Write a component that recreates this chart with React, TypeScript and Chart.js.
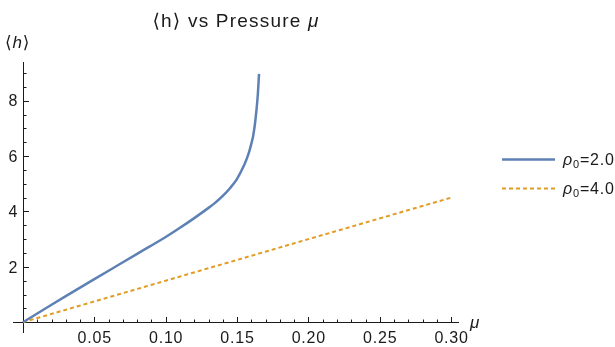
import { useEffect, useRef } from "react";
import { Chart, registerables } from "chart.js";

Chart.register(...registerables);

const WIDTH = 615;
const HEIGHT = 347;

// Mean height ⟨h⟩ against pressure μ for two densities ρ0
const muRho2 = [0, 0.02, 0.04, 0.06, 0.08, 0.1, 0.11, 0.12, 0.13, 0.135, 0.14, 0.145, 0.15, 0.155, 0.158, 0.16, 0.1612, 0.1625, 0.1636, 0.1645, 0.1654];
const hRho2 = [0, 0.63, 1.25, 1.86, 2.47, 3.08, 3.41, 3.76, 4.13, 4.33, 4.56, 4.84, 5.18, 5.68, 6.08, 6.45, 6.71, 7.15, 7.67, 8.2, 8.97];
const muRho4 = [0, 0.1, 0.2, 0.3];
const hRho4 = [0, 1.5, 3.0, 4.5];

const rhoLabels = ["2.0", "4.0"];
const seriesColors = ["rgb(94,129,181)", "rgb(225,156,36)"];

const xTickValues = [0.05, 0.1, 0.15, 0.2, 0.25, 0.3];
const xTickLabels = ["0.05", "0.10", "0.15", "0.20", "0.25", "0.30"];
const yTickValues = [2, 4, 6, 8];
const yTickLabels = ["2", "4", "6", "8"];
const xMinorStep = 0.01;
const yMinorStep = 0.5;

const X_MIN = -0.007;
const X_MAX = 0.3055;
const Y_MIN = -0.39;
const Y_MAX = 9.4;

const SANS = '"Liberation Sans", Arial, "DejaVu Sans", sans-serif';
const INK = "#1a1a1a";

type Seg = { text: string; italic?: boolean; sub?: boolean };

function segFont(size: number, s: Seg) {
  const sz = s.sub ? Math.round(size * 0.7) : size;
  return `${s.italic ? "italic " : ""}${sz}px ${SANS}`;
}

function setSpacing(ctx: CanvasRenderingContext2D, px: number) {
  (ctx as any).letterSpacing = `${px}px`;
}

function segWidth(ctx: CanvasRenderingContext2D, size: number, segs: Seg[], spacing: number) {
  let w = 0;
  setSpacing(ctx, spacing);
  for (const s of segs) {
    ctx.font = segFont(size, s);
    w += ctx.measureText(s.text).width;
  }
  setSpacing(ctx, 0);
  return w;
}

function drawSegs(
  ctx: CanvasRenderingContext2D,
  size: number,
  segs: Seg[],
  x: number,
  baseline: number,
  spacing = 0
) {
  let cx = x;
  ctx.textAlign = "left";
  ctx.textBaseline = "alphabetic";
  setSpacing(ctx, spacing);
  for (const s of segs) {
    ctx.font = segFont(size, s);
    ctx.fillText(s.text, cx, s.sub ? baseline + size * 0.2 : baseline);
    cx += ctx.measureText(s.text).width;
  }
  setSpacing(ctx, 0);
}

const axesPlugin = {
  id: "mathAxes",
  beforeDatasetsDraw(chart: any) {
    const { ctx, chartArea } = chart;
    const xs = chart.scales.x;
    const ys = chart.scales.y;
    const x0 = Math.round(xs.getPixelForValue(0)) + 0.5;
    const y0 = Math.round(ys.getPixelForValue(0)) + 0.5;
    ctx.save();
    ctx.strokeStyle = INK;
    ctx.lineWidth = 1;
    ctx.beginPath();
    ctx.moveTo(chartArea.left, y0);
    ctx.lineTo(chartArea.right, y0);
    ctx.moveTo(x0, chartArea.top);
    ctx.lineTo(x0, chartArea.bottom);
    ctx.stroke();

    // ticks point into the plot area
    ctx.beginPath();
    for (let v = xMinorStep; v <= X_MAX + 1e-9; v += xMinorStep) {
      const px = Math.round(xs.getPixelForValue(v)) + 0.5;
      const major = xTickValues.some((t) => Math.abs(t - v) < 1e-6);
      ctx.moveTo(px, y0);
      ctx.lineTo(px, y0 - (major ? 5.5 : 3));
    }
    for (let v = yMinorStep; v <= Y_MAX + 1e-9; v += yMinorStep) {
      const py = Math.round(ys.getPixelForValue(v)) + 0.5;
      const major = yTickValues.some((t) => Math.abs(t - v) < 1e-6);
      ctx.moveTo(x0, py);
      ctx.lineTo(x0 + (major ? 5.5 : 3), py);
    }
    ctx.stroke();

    const fs = 16;
    ctx.fillStyle = INK;
    ctx.font = `${fs}px ${SANS}`;
    ctx.textBaseline = "alphabetic";
    ctx.textAlign = "left";
    setSpacing(ctx, 0.8);
    xTickValues.forEach((v, i) => {
      const w = ctx.measureText(xTickLabels[i]).width - 0.8;
      ctx.fillText(xTickLabels[i], xs.getPixelForValue(v) - w / 2, y0 + 20);
    });
    yTickValues.forEach((v, i) => {
      const w = ctx.measureText(yTickLabels[i]).width - 0.8;
      ctx.fillText(yTickLabels[i], x0 - 6 - w, ys.getPixelForValue(v) + fs * 0.358);
    });
    setSpacing(ctx, 0);

    // axis labels
    drawSegs(ctx, 17, [{ text: "μ", italic: true }], chartArea.right + 11, y0 + 5);
    drawSegs(ctx, 17, [{ text: "⟨" }, { text: "h", italic: true }, { text: "⟩" }], 5, 48, 0.8);

    // title
    const titleSegs: Seg[] = [{ text: "⟨h⟩ vs Pressure " }, { text: "μ", italic: true }];
    const tw = segWidth(ctx, 19, titleSegs, 1.2);
    const cx = (chartArea.left + chartArea.right) / 2;
    drawSegs(ctx, 19, titleSegs, cx - tw / 2, 27, 1.2);
    ctx.restore();
  },
  afterDraw(chart: any) {
    const { ctx } = chart;
    ctx.save();
    const rows = [159, 188];
    rows.forEach((y, i) => {
      ctx.strokeStyle = seriesColors[i];
      ctx.lineWidth = i === 0 ? 2.4 : 2;
      ctx.setLineDash(i === 0 ? [] : [4, 3]);
      ctx.beginPath();
      ctx.moveTo(502, y + 0.5);
      ctx.lineTo(555, y + 0.5);
      ctx.stroke();
      ctx.setLineDash([]);
      ctx.fillStyle = INK;
      drawSegs(
        ctx,
        16,
        [{ text: "ρ", italic: true }, { text: "0", sub: true }, { text: "=" + rhoLabels[i] }],
        563,
        y + 6,
        0.8
      );
    });
    ctx.restore();
  },
};

export default function App() {
  const canvasRef = useRef<HTMLCanvasElement | null>(null);

  useEffect(() => {
    const canvas = canvasRef.current;
    if (!canvas) return;
    const chart = new Chart(canvas, {
      type: "scatter",
      data: {
        datasets: [
          {
            label: "ρ0=" + rhoLabels[0],
            data: muRho2.map((x, i) => ({ x, y: hRho2[i] })),
            showLine: true,
            borderColor: seriesColors[0],
            borderWidth: 2.5,
            pointRadius: 0,
            tension: 0.4,
          },
          {
            label: "ρ0=" + rhoLabels[1],
            data: muRho4.map((x, i) => ({ x, y: hRho4[i] })),
            showLine: true,
            borderColor: seriesColors[1],
            borderWidth: 2,
            borderDash: [4, 3],
            pointRadius: 0,
            tension: 0,
          },
        ],
      },
      options: {
        responsive: false,
        animation: false,
        devicePixelRatio: 1,
        events: [],
        layout: { padding: { left: 13, right: 156, top: 62, bottom: 14 } },
        scales: {
          x: { type: "linear", min: X_MIN, max: X_MAX, display: false },
          y: { type: "linear", min: Y_MIN, max: Y_MAX, display: false },
        },
        plugins: {
          legend: { display: false },
          title: { display: false },
          tooltip: { enabled: false },
        },
      },
      plugins: [axesPlugin],
    } as any);
    return () => chart.destroy();
  }, []);

  return (
    <div style={{ position: "absolute", left: 0, top: 0, width: WIDTH, height: HEIGHT, background: "#fff" }}>
      <canvas ref={canvasRef} width={WIDTH} height={HEIGHT} />
    </div>
  );
}
